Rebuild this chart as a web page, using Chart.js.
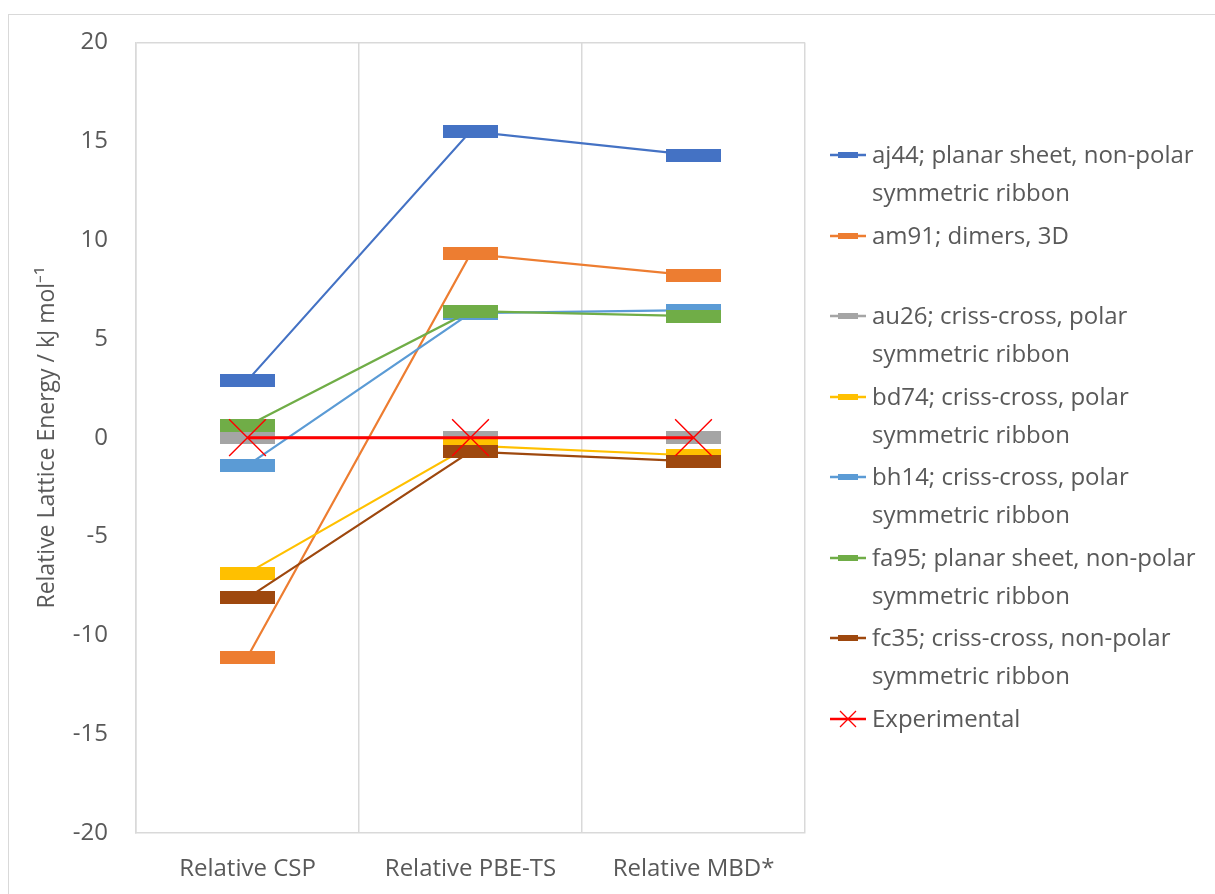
<!DOCTYPE html>
<html>
<head>
<meta charset="utf-8">
<script src="https://cdn.jsdelivr.net/npm/chart.js@4.4.1/dist/chart.umd.min.js"></script>
<style>
  html, body { margin: 0; padding: 0; background: #fff; }
  #wrap { position: relative; width: 1215px; height: 894px; overflow: hidden; }
  #frame { position: absolute; left: 8px; top: 14px; width: 1300px; height: 1000px; border-left: 1px solid #d9d9d9; border-top: 1px solid #d9d9d9; }
  #chart { position: absolute; left: 0; top: 0; }
  #legend { position: absolute; left: 830px; top: 135px; font-family: "Open Sans", sans-serif; font-size: 24px; color: #595959; }
  .item { position: relative; height: 80.5px; }
  .item canvas { position: absolute; left: 0; top: 10px; }
  .item .txt { position: absolute; left: 42px; top: 0; line-height: 38px; white-space: nowrap; }
</style>
</head>
<body>
<div id="wrap">
  <div id="frame"></div>
  <canvas id="chart" width="1215" height="894"></canvas>
  <div id="legend"></div>
</div>
<script>
const categories = ["Relative CSP", "Relative PBE-TS", "Relative MBD*"];
const seriesNames = ["aj44", "am91", "au26", "bd74", "bh14", "fa95", "fc35", "Experimental"];
const legendText = [
  ["aj44; planar sheet, non-polar", "symmetric ribbon"],
  ["am91; dimers, 3D"],
  ["au26; criss-cross, polar", "symmetric ribbon"],
  ["bd74; criss-cross, polar", "symmetric ribbon"],
  ["bh14; criss-cross, polar", "symmetric ribbon"],
  ["fa95; planar sheet, non-polar", "symmetric ribbon"],
  ["fc35; criss-cross, non-polar", "symmetric ribbon"],
  ["Experimental"],
];
const aj44 = [2.9, 15.5, 14.3];
const am91 = [-11.1, 9.3, 8.2];
const au26 = [0, 0, 0];
const bd74 = [-6.85, -0.4, -0.9];
const bh14 = [-1.4, 6.3, 6.45];
const fa95 = [0.6, 6.4, 6.15];
const fc35 = [-8.1, -0.7, -1.2];
const experimental = [0, 0, 0];
const yTicks = [-20, -15, -10, -5, 0, 5, 10, 15, 20];

const allData = [aj44, am91, au26, bd74, bh14, fa95, fc35, experimental];
const colors = ["#4472C4", "#ED7D31", "#A5A5A5", "#FFC000", "#5B9BD5", "#70AD47", "#9E480E", "#FF0000"];

// wide flat marker like excel's dash
const dash = (color, w, h) => {
  const c = document.createElement("canvas");
  c.width = w; c.height = h;
  const g = c.getContext("2d");
  g.fillStyle = color;
  g.fillRect(0, 0, w, h);
  return c;
};

const n = seriesNames.length;
const datasets = seriesNames.map((name, i) => {
  const isExp = name === "Experimental";
  return {
    label: name,
    data: allData[i],
    borderColor: colors[i],
    backgroundColor: colors[i],
    borderWidth: isExp ? 3 : 2.2,
    pointStyle: isExp ? "crossRot" : dash(colors[i], 55, 13),
    pointRadius: isExp ? 26 : 6,
    pointBorderWidth: isExp ? 1.4 : 0,
    pointBorderColor: colors[i],
    pointBackgroundColor: colors[i],
    tension: 0,
    order: n - i,
  };
});

new Chart(document.getElementById("chart"), {
  type: "line",
  data: { labels: categories, datasets },
  options: {
    responsive: false,
    animation: false,
    layout: { padding: { top: 42, right: 410, left: 0, bottom: 0 } },
    plugins: { legend: { display: false }, tooltip: { enabled: false } },
    scales: {
      x: {
        offset: true,
        grid: { offset: true, color: "#d9d9d9", lineWidth: 1.5, drawTicks: false },
        border: { color: "#d9d9d9", width: 1.5 },
        ticks: { color: "#595959", padding: 22, font: { family: "Open Sans", size: 24 } },
        afterFit: (s) => { s.height = 61; },
      },
      y: {
        min: -20,
        max: 20,
        afterBuildTicks: (s) => { s.ticks = yTicks.map((v) => ({ value: v })); },
        grid: {
          drawTicks: false,
          lineWidth: 1.5,
          color: (c) => (c.tick && c.tick.value === 20 ? "#d9d9d9" : "rgba(0,0,0,0)"),
        },
        border: { color: "#d9d9d9", width: 1.5 },
        ticks: { color: "#595959", padding: 28, font: { family: "Open Sans", size: 24 } },
        title: {
          display: true,
          text: "Relative Lattice Energy / kJ mol⁻¹",
          color: "#595959",
          font: { family: "Open Sans", size: 23 },
          padding: { top: 34, bottom: 0 },
        },
        afterFit: (s) => { s.width = 136; },
      },
    },
  },
});

// legend
const legend = document.getElementById("legend");
legendText.forEach((lines, i) => {
  const item = document.createElement("div");
  item.className = "item";
  const c = document.createElement("canvas");
  c.width = 38; c.height = 20;
  const g = c.getContext("2d");
  g.strokeStyle = colors[i];
  g.lineWidth = 2.5;
  g.beginPath(); g.moveTo(0, 10); g.lineTo(36, 10); g.stroke();
  if (seriesNames[i] === "Experimental") {
    g.lineWidth = 1.3;
    g.beginPath();
    g.moveTo(10, 2); g.lineTo(26, 18);
    g.moveTo(26, 2); g.lineTo(10, 18);
    g.stroke();
  } else {
    g.fillStyle = colors[i];
    g.fillRect(8, 7, 20, 6);
  }
  item.appendChild(c);
  const t = document.createElement("div");
  t.className = "txt";
  t.innerHTML = lines.join("<br>");
  item.appendChild(t);
  legend.appendChild(item);
});
</script>
</body>
</html>
